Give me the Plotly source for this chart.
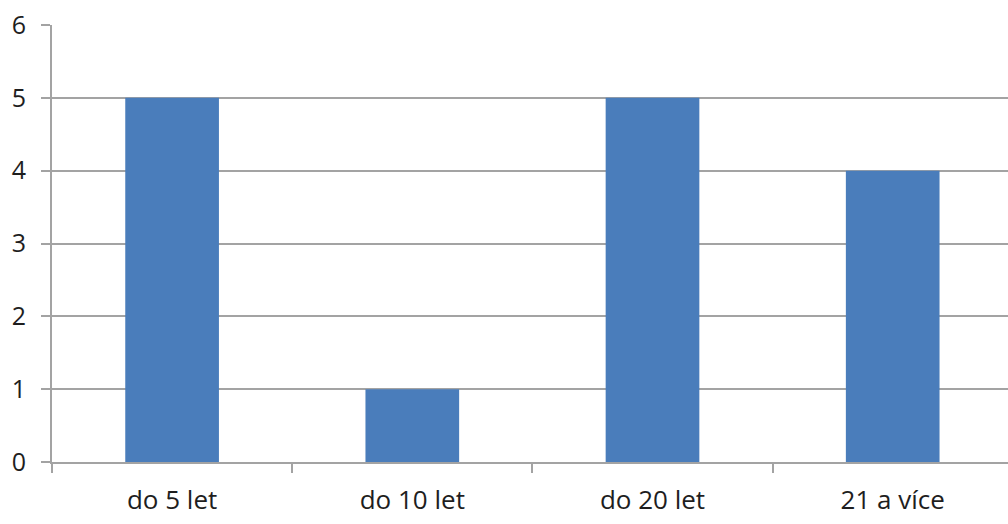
import plotly.graph_objects as go

# Počet respondentů podle délky praxe
categories = ["do 5 let", "do 10 let", "do 20 let", "21 a více"]
counts = [5, 1, 5, 4]
y_ticks = [0, 1, 2, 3, 4, 5, 6]

bar_color = "#4a7dbb"
line_color = "#a3a3a3"
text_color = "#1e1e1e"
font_family = "'Open Sans', Lato, sans-serif"

fig = go.Figure(
    go.Bar(
        x=categories,
        y=counts,
        marker=dict(color=bar_color, line=dict(width=0)),
        width=0.39,
    )
)

fig.update_layout(
    width=1008,
    height=524,
    margin=dict(l=52, r=0, t=25, b=62),
    paper_bgcolor="white",
    plot_bgcolor="white",
    showlegend=False,
    font=dict(family=font_family, size=20, color=text_color),
)

fig.update_xaxes(
    type="category",
    range=[-0.5, 3.48],
    showgrid=False,
    showline=True,
    linecolor=line_color,
    linewidth=2,
    ticks="outside",
    tickson="boundaries",
    ticklen=9,
    tickwidth=2,
    tickcolor=line_color,
    tickfont=dict(size=26, color=text_color),
    ticklabelstandoff=14,
)

fig.update_yaxes(
    range=[0, 6],
    tickvals=y_ticks,
    showgrid=True,
    gridcolor=line_color,
    gridwidth=2,
    zeroline=False,
    showline=True,
    linecolor=line_color,
    linewidth=2,
    ticks="outside",
    ticklen=9,
    tickwidth=2,
    tickcolor=line_color,
    tickfont=dict(size=25, color=text_color),
    ticklabelstandoff=10,
)

fig.write_html("out.html")
